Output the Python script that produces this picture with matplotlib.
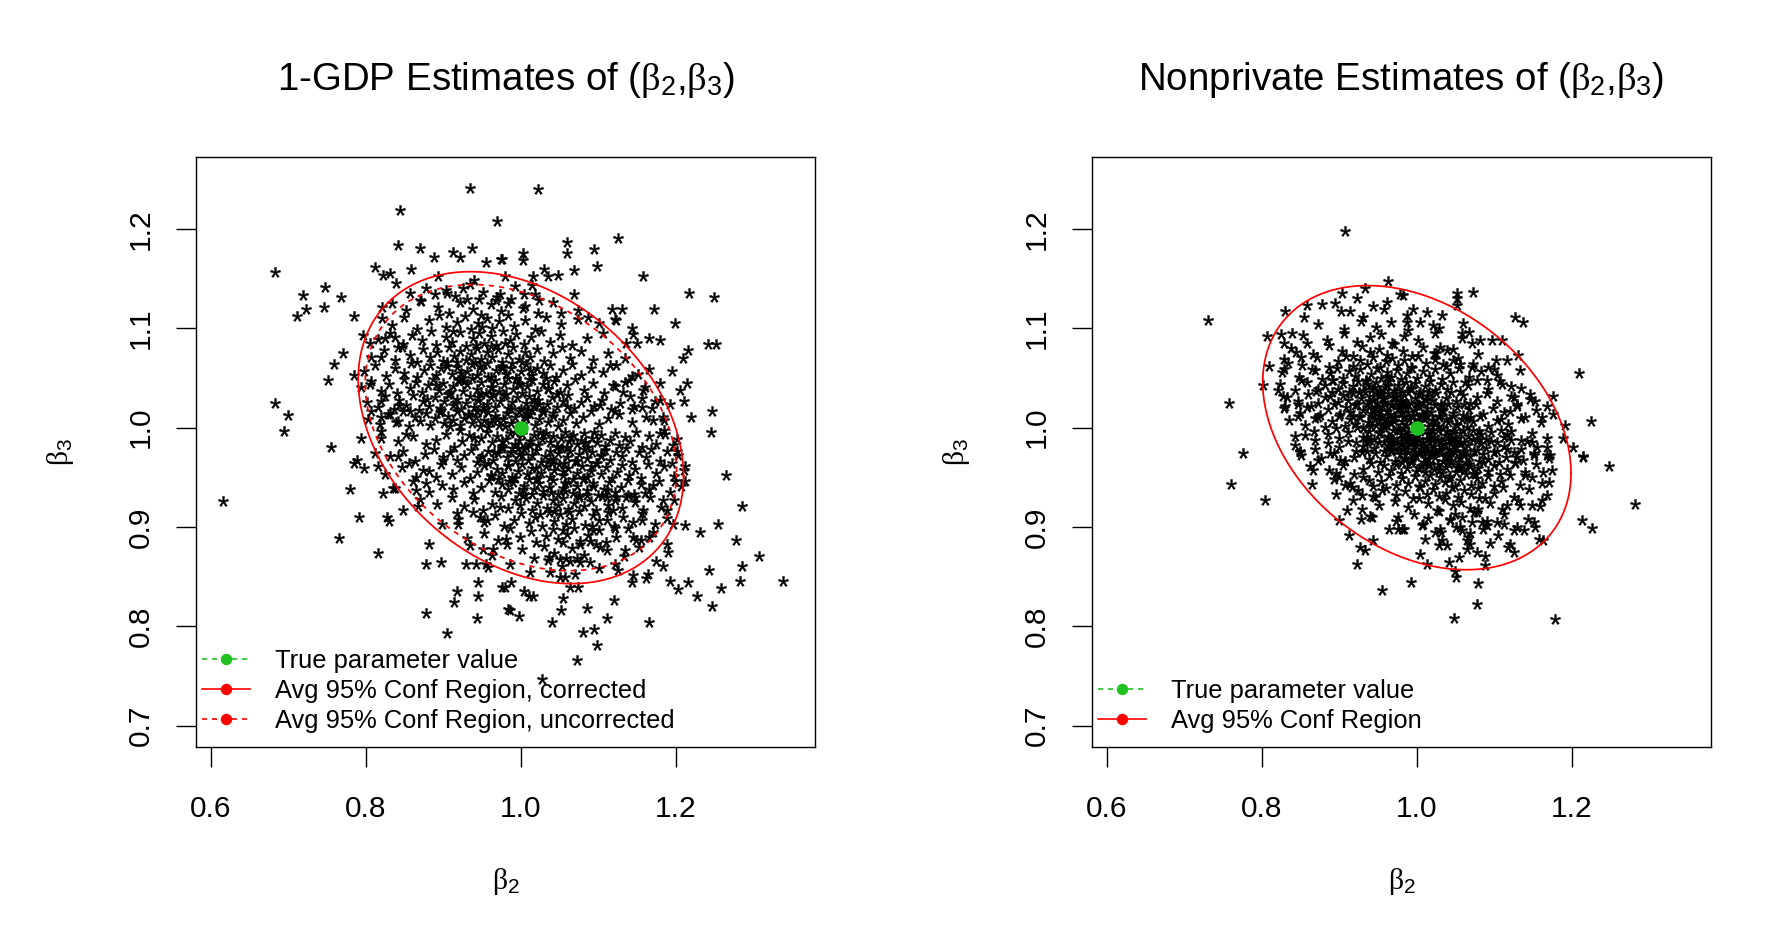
import numpy as np
import matplotlib
matplotlib.use("Agg")
import matplotlib.pyplot as plt
from matplotlib.path import Path
from matplotlib.textpath import TextPath
from matplotlib.font_manager import FontProperties
from matplotlib.lines import Line2D

plt.rcParams['font.family'] = ['Liberation Sans', 'DejaVu Sans']
plt.rcParams['mathtext.fontset'] = 'custom'
plt.rcParams['mathtext.rm'] = 'Liberation Sans'
plt.rcParams['mathtext.it'] = 'Liberation Serif'
plt.rcParams['mathtext.bf'] = 'Liberation Sans:bold'

# ---------------- data ----------------
titles = [r'1-GDP Estimates of ($\beta_2$,$\beta_3$)',
          r'Nonprivate Estimates of ($\beta_2$,$\beta_3$)']
x_label = r'$\beta_2$'
y_label = r'$\beta_3$'
x_ticks = [0.6, 0.8, 1.0, 1.2]
x_tick_labels = ['0.6', '0.8', '1.0', '1.2']
y_ticks = [0.7, 0.8, 0.9, 1.0, 1.1, 1.2]
y_tick_labels = ['0.7', '0.8', '0.9', '1.0', '1.1', '1.2']
true_value = (1.0, 1.0)
legend_gdp = ['True parameter value', 'Avg 95% Conf Region, corrected',
              'Avg 95% Conf Region, uncorrected']
legend_np = ['True parameter value', 'Avg 95% Conf Region']

# average 95% confidence regions: centre, half extents (beta2, beta3), correlation
gdp_corrected_center = (1.0, 1.0)
gdp_corrected_extent = (0.210, 0.157)
gdp_corrected_rho = -0.31
gdp_uncorrected_center = (1.0, 1.0)
gdp_uncorrected_extent = (0.201, 0.144)
gdp_uncorrected_rho = -0.31
np_region_center = (1.0, 1.0)
np_region_extent = (0.199, 0.143)
np_region_rho = -0.32

# 1-GDP estimates: clearly readable (outer) points
gdp_outer = [
(0.934,1.241),(0.844,1.219),(0.969,1.208),(0.841,1.184),(0.870,1.181),(0.888,1.172),(0.913,1.177),(0.921,1.172),(0.937,1.181),(0.955,1.167),(0.974,1.170),(0.683,1.157),(0.812,1.162),(0.822,1.154),(0.831,1.156),(0.839,1.146),(0.858,1.160),(0.893,1.153),(0.719,1.134),(0.747,1.142),(0.768,1.131),(0.722,1.119),(0.711,1.112),(0.746,1.121),(0.785,1.112),(0.771,1.075),(0.759,1.064),(0.751,1.048),(0.785,1.053),(0.796,1.093),(0.805,1.085),(0.821,1.121),(0.821,1.110),(0.833,1.125),(0.683,1.025),(0.699,1.013),(0.694,0.997),(0.755,0.981),(0.793,0.990),(0.789,0.967),(0.805,1.044),(0.820,1.071),(0.825,1.090),(0.837,1.091),
(0.842,1.081),(0.820,1.027),(0.807,1.017),(0.820,1.011),(0.831,1.014),(0.820,0.997),(0.842,1.007),(0.852,0.994),(0.857,1.017),(0.843,1.023),
(0.857,1.136),(0.870,1.128),(0.889,1.135),(0.904,1.136),(0.925,1.141),(0.939,1.149),(0.973,1.135),
(1.022,1.240),(1.059,1.187),(1.059,1.176),(1.095,1.180),(1.126,1.191),(1.098,1.163),(1.003,1.176),(1.003,1.169),(0.975,1.170),(1.158,1.153),(1.217,1.136),(1.249,1.132),(1.172,1.119),(1.199,1.105),(1.242,1.084),(1.252,1.084),(1.216,1.078),(1.209,1.070),(1.195,1.057),(1.214,1.045),(1.205,1.038),(1.211,1.027),(1.247,1.017),(1.220,1.011),(1.245,0.996),(1.117,1.119),(1.130,1.119),(1.122,1.109),(1.144,1.100),(1.145,1.094),(1.136,1.085),(1.150,1.085),(1.165,1.090),(1.179,1.088),(1.151,1.054),(1.160,1.041),(1.157,1.030),(1.146,1.022),
(1.030,1.160),(1.035,1.153),(1.048,1.154),(1.068,1.159),(1.016,1.153),(1.014,1.144),(0.979,1.153),(1.004,1.135),(1.024,1.128),(1.005,1.122),(0.984,1.125),(1.069,1.135),(1.074,1.118),(1.052,1.115),(1.087,1.111),(1.101,1.105),(1.123,1.108),
(1.169,1.020),(1.179,1.028),(1.184,1.011),(1.171,1.008),(1.185,0.998),(1.179,0.995),(1.196,0.983),(1.201,0.977),
(1.134,1.046),(1.132,1.036),(1.115,1.063),(1.119,1.043),(1.102,1.023),(1.121,1.017),(1.144,1.019),
(0.615,0.926),(0.784,0.964),(0.797,0.959),(0.816,0.961),(0.779,0.938),(0.822,0.934),(0.835,0.939),(0.791,0.910),(0.827,0.910),(0.830,0.906),(0.848,0.917),(0.867,0.921),(0.765,0.889),(0.815,0.874),(0.882,0.883),(0.878,0.863),(0.897,0.865),(0.929,0.863),(0.942,0.863),(0.955,0.863),(0.945,0.845),(0.918,0.836),(0.914,0.825),(0.945,0.831),(0.878,0.813),(0.944,0.808),(0.904,0.793),(0.975,0.840),(0.984,0.817),
(0.934,0.882),(0.951,0.878),(0.964,0.878),(0.981,0.888),(0.958,0.860),(0.956,0.907),(0.947,0.910),(0.919,0.903),(0.917,0.914),(0.973,0.920),(0.842,0.971),(0.855,0.964),(0.865,0.937),(0.878,0.944),(0.891,0.950),(0.900,0.967),(0.874,0.957),
(1.265,0.952),(1.285,0.921),(1.255,0.903),(1.231,0.895),(1.278,0.887),(1.308,0.871),(1.286,0.861),(1.243,0.857),(1.338,0.846),(1.283,0.846),(1.258,0.839),(1.247,0.821),(1.227,0.831),(1.216,0.845),(1.203,0.838),(1.192,0.846),(1.166,0.804),(1.120,0.827),(1.111,0.808),(1.086,0.818),(1.052,0.816),(1.040,0.804),(1.080,0.794),(1.095,0.797),(1.098,0.781),(1.072,0.766),(1.027,0.747),(0.986,0.816),(0.998,0.810),(1.055,0.829),(1.063,0.840),(1.074,0.840),(1.004,0.836),(1.011,0.831),(1.016,0.831),(0.987,0.845),(0.980,0.840),(1.145,0.852),(1.162,0.849),(1.143,0.845),(1.164,0.853),(1.175,0.866),(1.184,0.861),(1.190,0.875),(1.188,0.883),(1.195,0.964),(1.212,0.961),(1.212,0.946),(1.199,0.946),(1.212,0.902),
(1.166,0.890),(1.145,0.890),(1.148,0.887),(1.156,0.907),(1.121,0.899),(1.134,0.877),(1.121,0.863),(1.102,0.880),(1.089,0.886),(1.076,0.883),(1.093,0.897),(1.111,0.907),(1.119,0.917),(1.111,0.930),(1.123,0.930),(1.136,0.930),(1.147,0.930),(1.160,0.934),(1.171,0.942),(1.184,0.927),(1.188,0.917),(1.197,0.903),
(1.037,0.855),(1.050,0.850),(1.057,0.850),(1.076,0.865),(1.063,0.866),(1.050,0.868),
]

# 1-GDP estimates: dense core (estimated)
gdp_core = [
(0.878,1.141),(0.915,1.133),(0.934,1.145),(0.951,1.137),(0.969,1.131),(0.992,1.143),(1.018,1.135),(0.903,1.139),(0.946,1.129),
(0.852,1.118),(0.871,1.127),(0.893,1.121),(0.907,1.115),(0.922,1.126),(0.938,1.119),(0.949,1.113),(0.961,1.124),(0.974,1.117),(0.987,1.129),(1.003,1.12),(1.022,1.115),(1.041,1.126),(0.931,1.129),(0.968,1.128),
(0.834,1.103),(0.849,1.111),(0.866,1.099),(0.881,1.108),(0.894,1.113),(0.903,1.101),(0.917,1.106),(0.928,1.112),(0.936,1.099),(0.945,1.105),(0.956,1.11),(0.963,1.1),(0.972,1.107),(0.984,1.113),(0.991,1.102),(1.005,1.108),(1.018,1.099),(1.033,1.111),(1.052,1.104),(1.074,1.109),(0.912,1.097),(0.95,1.101),
(0.816,1.089),(0.831,1.095),(0.848,1.084),(0.859,1.093),(0.872,1.088),(0.884,1.097),(0.891,1.083),(0.903,1.091),(0.911,1.086),(0.921,1.096),(0.929,1.082),(0.938,1.09),(0.946,1.095),(0.953,1.085),(0.961,1.092),(0.968,1.083),(0.977,1.097),(0.986,1.088),(0.994,1.094),(1.004,1.084),(1.013,1.091),(1.026,1.097),(1.038,1.086),(1.051,1.093),(1.066,1.083),(1.085,1.09),(1.106,1.095),(0.942,1.083),(0.979,1.085),
(0.806,1.071),(0.823,1.078),(0.837,1.068),(0.846,1.081),(0.857,1.073),(0.866,1.066),(0.874,1.079),(0.883,1.071),(0.892,1.076),(0.899,1.067),(0.907,1.081),(0.914,1.072),(0.922,1.077),(0.929,1.068),(0.936,1.074),(0.943,1.08),(0.949,1.069),(0.956,1.076),(0.963,1.071),(0.97,1.079),(0.976,1.066),(0.983,1.074),(0.99,1.081),(0.997,1.069),(1.005,1.076),(1.012,1.071),(1.021,1.079),(1.03,1.067),(1.041,1.075),(1.053,1.081),(1.064,1.07),(1.078,1.077),(1.093,1.068),(1.112,1.075),(1.134,1.07),(0.918,1.066),(0.961,1.082),(1.001,1.066),
(0.797,1.057),(0.812,1.063),(0.826,1.052),(0.838,1.06),(0.849,1.055),(0.858,1.065),(0.866,1.051),(0.875,1.058),(0.883,1.063),(0.89,1.053),(0.897,1.06),(0.904,1.066),(0.911,1.054),(0.918,1.061),(0.924,1.05),(0.931,1.057),(0.937,1.064),(0.943,1.053),(0.95,1.059),(0.956,1.065),(0.962,1.051),(0.968,1.058),(0.975,1.062),(0.981,1.054),(0.987,1.06),(0.994,1.05),(1.0,1.057),(1.007,1.064),(1.014,1.053),(1.021,1.06),(1.029,1.055),(1.037,1.063),(1.045,1.051),(1.055,1.058),(1.066,1.064),(1.078,1.053),(1.091,1.06),(1.106,1.056),(1.123,1.063),(1.143,1.052),(1.166,1.059),(0.947,1.062),(0.989,1.065),(1.033,1.05),
(0.793,1.041),(0.806,1.047),(0.819,1.037),(0.83,1.044),(0.84,1.035),(0.849,1.049),(0.857,1.04),(0.865,1.046),(0.873,1.036),(0.88,1.043),(0.887,1.049),(0.894,1.038),(0.9,1.045),(0.907,1.034),(0.913,1.042),(0.919,1.048),(0.925,1.037),(0.931,1.044),(0.937,1.05),(0.943,1.039),(0.949,1.046),(0.955,1.035),(0.961,1.041),(0.967,1.048),(0.972,1.037),(0.978,1.044),(0.984,1.05),(0.99,1.039),(0.996,1.045),(1.002,1.035),(1.008,1.042),(1.015,1.048),(1.021,1.037),(1.028,1.044),(1.035,1.04),(1.043,1.047),(1.051,1.036),(1.06,1.043),(1.07,1.049),(1.081,1.038),(1.093,1.045),(1.107,1.035),(1.122,1.042),(1.139,1.048),(1.158,1.038),(1.18,1.045),(0.922,1.049),(0.964,1.034),(1.011,1.049),(1.047,1.034),
(0.801,1.026),(0.815,1.021),(0.824,1.032),(0.836,1.019),(0.843,1.028),(0.852,1.023),(0.861,1.033),(0.868,1.018),(0.874,1.027),(0.881,1.022),(0.889,1.031),(0.895,1.02),(0.901,1.027),(0.906,1.034),(0.912,1.023),(0.918,1.029),(0.923,1.019),(0.929,1.025),(0.934,1.032),(0.94,1.021),(0.945,1.028),(0.951,1.018),(0.956,1.024),(0.962,1.031),(0.967,1.021),(0.973,1.027),(0.978,1.033),(0.984,1.02),(0.989,1.026),(0.995,1.031),(1.0,1.019),(1.006,1.025),(1.011,1.032),(1.017,1.022),(1.022,1.028),(1.028,1.018),(1.034,1.024),(1.04,1.031),(1.047,1.021),(1.054,1.027),(1.061,1.033),(1.069,1.02),(1.077,1.026),(1.086,1.031),(1.095,1.022),(1.105,1.028),(1.116,1.019),(1.128,1.025),(1.141,1.032),(1.156,1.021),(1.173,1.027),(1.192,1.024),(0.948,1.034),(1.008,1.018),
(0.803,1.009),(0.818,1.004),(0.829,1.014),(0.839,1.006),(0.848,1.017),(0.856,1.002),(0.863,1.011),(0.87,1.007),(0.877,1.015),(0.883,1.003),(0.889,1.01),(0.895,1.016),(0.901,1.005),(0.906,1.012),(0.912,1.008),(0.917,1.017),(0.922,1.003),(0.927,1.01),(0.932,1.014),(0.937,1.005),(0.942,1.011),(0.947,1.002),(0.952,1.008),(0.957,1.016),(0.962,1.006),(0.967,1.012),(0.972,1.003),(0.977,1.009),(0.982,1.015),(0.987,1.005),(0.992,1.011),(0.997,1.017),(1.002,1.004),(1.007,1.01),(1.012,1.014),(1.018,1.003),(1.023,1.009),(1.029,1.016),(1.035,1.006),(1.041,1.012),(1.048,1.002),(1.055,1.008),(1.063,1.015),(1.071,1.005),(1.08,1.011),(1.09,1.017),(1.101,1.004),(1.113,1.01),(1.127,1.014),(1.143,1.006),(1.162,1.011),(1.185,1.008),(0.944,1.017),(0.979,1.002),(1.015,1.018),(0.909,1.002),
(1.126,0.857),(1.089,0.865),(1.070,0.853),(1.053,0.861),(1.035,0.867),(1.012,0.855),(0.986,0.863),(1.101,0.859),(1.058,0.869),
(1.152,0.880),(1.133,0.871),(1.111,0.877),(1.097,0.883),(1.082,0.872),(1.066,0.879),(1.055,0.885),(1.043,0.874),(1.030,0.881),(1.017,0.869),(1.001,0.878),(0.982,0.883),(0.963,0.872),(1.073,0.869),(1.036,0.870),
(1.170,0.895),(1.155,0.887),(1.138,0.899),(1.123,0.890),(1.110,0.885),(1.101,0.897),(1.087,0.892),(1.076,0.886),(1.068,0.899),(1.059,0.893),(1.048,0.888),(1.041,0.898),(1.032,0.891),(1.020,0.885),(1.013,0.896),(0.999,0.890),(0.986,0.899),(0.971,0.887),(0.952,0.894),(0.930,0.889),(1.092,0.901),(1.054,0.897),
(1.188,0.909),(1.173,0.903),(1.156,0.914),(1.145,0.905),(1.132,0.910),(1.120,0.901),(1.113,0.915),(1.101,0.907),(1.093,0.912),(1.083,0.902),(1.075,0.916),(1.066,0.908),(1.058,0.903),(1.051,0.913),(1.043,0.906),(1.036,0.915),(1.027,0.901),(1.018,0.910),(1.010,0.904),(1.000,0.914),(0.991,0.907),(0.978,0.901),(0.966,0.912),(0.953,0.905),(0.938,0.915),(0.919,0.908),(0.898,0.903),(1.062,0.915),(1.025,0.913),
(1.198,0.927),(1.181,0.920),(1.167,0.930),(1.158,0.917),(1.147,0.925),(1.138,0.932),(1.130,0.919),(1.121,0.927),(1.112,0.922),(1.105,0.931),(1.097,0.917),(1.090,0.926),(1.082,0.921),(1.075,0.930),(1.068,0.924),(1.061,0.918),(1.055,0.929),(1.048,0.922),(1.041,0.927),(1.034,0.919),(1.028,0.932),(1.021,0.924),(1.014,0.917),(1.007,0.929),(0.999,0.922),(0.992,0.927),(0.983,0.919),(0.974,0.931),(0.963,0.923),(0.951,0.917),(0.940,0.928),(0.926,0.921),(0.911,0.930),(0.892,0.923),(0.870,0.928),(1.086,0.932),(1.043,0.916),(1.003,0.932),
(1.207,0.941),(1.192,0.935),(1.178,0.946),(1.166,0.938),(1.155,0.943),(1.146,0.933),(1.138,0.947),(1.129,0.940),(1.121,0.935),(1.114,0.945),(1.107,0.938),(1.100,0.932),(1.093,0.944),(1.086,0.937),(1.080,0.948),(1.073,0.941),(1.067,0.934),(1.061,0.945),(1.054,0.939),(1.048,0.933),(1.042,0.947),(1.036,0.940),(1.029,0.936),(1.023,0.944),(1.017,0.938),(1.010,0.948),(1.004,0.941),(0.997,0.934),(0.990,0.945),(0.983,0.938),(0.975,0.943),(0.967,0.935),(0.959,0.947),(0.949,0.940),(0.938,0.934),(0.926,0.945),(0.913,0.938),(0.898,0.942),(0.881,0.935),(0.861,0.946),(0.838,0.939),(1.057,0.936),(1.015,0.933),(0.971,0.948),
(1.211,0.957),(1.198,0.951),(1.185,0.961),(1.174,0.954),(1.164,0.963),(1.155,0.949),(1.147,0.958),(1.139,0.952),(1.131,0.962),(1.124,0.955),(1.117,0.949),(1.110,0.960),(1.104,0.953),(1.097,0.964),(1.091,0.956),(1.085,0.950),(1.079,0.961),(1.073,0.954),(1.067,0.948),(1.061,0.959),(1.055,0.952),(1.049,0.963),(1.043,0.957),(1.037,0.950),(1.032,0.961),(1.026,0.954),(1.020,0.948),(1.014,0.959),(1.008,0.953),(1.002,0.963),(0.996,0.956),(0.989,0.950),(0.983,0.961),(0.976,0.954),(0.969,0.958),(0.961,0.951),(0.953,0.962),(0.944,0.955),(0.934,0.949),(0.923,0.960),(0.911,0.953),(0.897,0.963),(0.882,0.956),(0.865,0.950),(0.846,0.960),(0.824,0.953),(1.082,0.949),(1.040,0.964),(0.993,0.949),(0.957,0.964),
(1.203,0.972),(1.189,0.977),(1.180,0.966),(1.168,0.979),(1.161,0.970),(1.152,0.975),(1.143,0.965),(1.136,0.980),(1.130,0.971),(1.123,0.976),(1.115,0.967),(1.109,0.978),(1.103,0.971),(1.098,0.964),(1.092,0.975),(1.086,0.969),(1.081,0.979),(1.075,0.973),(1.070,0.966),(1.064,0.977),(1.059,0.970),(1.053,0.980),(1.048,0.974),(1.042,0.967),(1.037,0.977),(1.031,0.971),(1.026,0.965),(1.020,0.978),(1.015,0.972),(1.009,0.967),(1.004,0.979),(0.998,0.973),(0.993,0.966),(0.987,0.976),(0.982,0.970),(0.976,0.980),(0.970,0.974),(0.964,0.967),(0.957,0.977),(0.950,0.971),(0.943,0.965),(0.935,0.978),(0.927,0.972),(0.918,0.967),(0.909,0.976),(0.899,0.970),(0.888,0.979),(0.876,0.973),(0.863,0.966),(0.848,0.977),(0.831,0.971),(0.812,0.974),(1.056,0.964),(0.996,0.980),
(1.201,0.989),(1.186,0.994),(1.175,0.984),(1.165,0.992),(1.156,0.981),(1.148,0.996),(1.141,0.987),(1.134,0.991),(1.127,0.983),(1.121,0.995),(1.115,0.988),(1.109,0.982),(1.103,0.993),(1.098,0.986),(1.092,0.990),(1.087,0.981),(1.082,0.995),(1.077,0.988),(1.072,0.984),(1.067,0.993),(1.062,0.987),(1.057,0.996),(1.052,0.990),(1.047,0.982),(1.042,0.992),(1.037,0.986),(1.032,0.995),(1.027,0.989),(1.022,0.983),(1.017,0.993),(1.012,0.987),(1.007,0.981),(1.002,0.994),(0.997,0.988),(0.992,0.984),(0.986,0.995),(0.981,0.989),(0.975,0.982),(0.969,0.992),(0.963,0.986),(0.956,0.996),(0.949,0.990),(0.941,0.983),(0.933,0.993),(0.924,0.987),(0.914,0.981),(0.903,0.994),(0.891,0.988),(0.877,0.984),(0.861,0.992),(0.842,0.987),(0.819,0.990),(1.060,0.981),(1.025,0.996),(0.989,0.980),(1.095,0.996),
(0.905,1.062),(0.923,1.055),(0.941,1.066),(0.958,1.051),(0.976,1.06),(0.994,1.049),(1.012,1.058),(0.891,1.043),(0.909,1.036),(0.927,1.047),(0.945,1.031),(0.963,1.041),(0.981,1.034),(0.999,1.044),(1.017,1.029),(1.035,1.039),(0.897,1.018),(0.915,1.025),(0.933,1.013),(0.951,1.021),(0.969,1.009),(0.987,1.019),(1.005,1.012),(1.023,1.024),(1.041,1.015),(1.059,1.022),(0.921,0.998),(0.939,0.991),(0.957,1.001),(0.975,0.987),(0.993,0.996),(1.011,0.984),(1.029,0.994),(1.047,0.981),(1.065,0.991),(1.083,0.986),(0.947,0.969),(0.965,0.976),(0.983,0.962),(1.001,0.972),(1.019,0.959),(1.037,0.968),(1.055,0.956),(1.073,0.966),(1.091,0.961),(0.985,0.946),(1.003,0.938),(1.021,0.949),(1.039,0.935),(1.057,0.944),(1.075,0.932),(1.093,0.941),(1.111,0.937),(0.961,0.952),(0.879,1.029),(1.103,0.972),
]

# Nonprivate estimates: clearly readable (outer) points
np_outer = [
(0.907,1.198),(0.730,1.108),(0.758,1.025),(0.776,0.974),(0.963,1.148),(0.933,1.141),(0.903,1.136),(0.923,1.130),(0.978,1.135),(0.830,1.117),(0.854,1.111),(0.858,1.123),(0.877,1.124),(0.894,1.125),(0.914,1.117),(0.944,1.122),(0.961,1.126),(0.806,1.092),(0.825,1.094),(0.839,1.095),(0.828,1.085),(0.809,1.062),(0.829,1.059),(0.834,1.065),(0.801,1.043),(0.821,1.038),(0.832,1.031),(0.830,1.022),(0.846,1.024),(0.846,1.012),(0.855,0.993),(0.867,0.997),(0.849,0.977),(0.873,1.011),(0.858,1.021),(0.844,1.076),(0.850,1.071),(0.858,1.085),(0.851,1.048),(0.868,1.058),(0.873,1.039),(0.888,1.032),(0.892,1.048),
(1.052,1.136),(1.052,1.130),(1.052,1.123),(1.073,1.137),(1.127,1.111),(1.137,1.106),(1.209,1.055),(1.225,1.007),(1.176,1.032),(1.168,1.022),(1.176,1.014),(1.162,1.011),(1.191,1.003),(1.189,0.990),(1.202,0.981),(1.214,0.971),(1.116,1.068),(1.130,1.073),(1.071,1.085),(1.082,1.088),(1.097,1.088),(1.110,1.088),(1.059,1.105),(1.058,1.095),(1.067,1.096),(1.032,1.113),(1.028,1.100),(0.995,1.119),(1.013,1.116),(1.004,1.106),(0.987,1.106),(0.982,1.134),(1.092,1.061),(1.099,1.059),(1.090,1.048),(1.107,1.047),(1.121,1.042),(1.146,1.034),(1.153,1.027),(1.125,1.031),(1.129,1.024),(1.140,1.011),(1.120,1.017),(1.108,1.009),(1.116,0.994),(1.142,0.987),(1.155,0.981),(1.168,0.972),(1.129,0.970),(1.116,0.979),(1.056,1.064),(1.071,1.061),(1.062,1.046),(1.047,1.068),(1.039,1.078),(1.030,1.081),(1.022,1.075),(1.034,1.064),
(0.760,0.943),(0.804,0.927),(0.866,0.957),(0.873,0.967),(0.849,0.976),(0.888,0.974),(0.901,0.967),(0.899,0.950),(0.895,0.954),(0.899,0.907),(0.910,0.917),(0.912,0.892),(0.927,0.880),(0.933,0.877),(0.923,0.863),(0.944,0.887),(0.955,0.837),(0.964,0.898),(0.928,0.908),(0.942,0.910),(0.929,0.918),(0.946,0.930),(0.955,0.937),(0.929,0.932),(0.916,0.940),(0.907,0.942),(0.938,0.947),(0.976,0.910),(0.981,0.898),
(1.214,0.970),(1.248,0.961),(1.282,0.923),(1.213,0.907),(1.226,0.899),(1.178,0.807),(1.048,0.808),(1.077,0.823),(1.079,0.844),(1.050,0.850),(1.049,0.856),(0.992,0.845),(1.088,0.862),(1.088,0.871),(1.077,0.875),(1.065,0.878),(1.054,0.870),(1.041,0.865),(1.013,0.863),(1.004,0.873),(1.163,0.887),(1.158,0.888),(1.125,0.875),(1.120,0.883),(1.118,0.880),(1.105,0.892),(1.129,0.900),(1.138,0.897),(1.151,0.905),(1.153,0.900),(1.103,0.905),(1.112,0.903),(1.086,0.898),(1.084,0.905),(1.071,0.905),(1.065,0.887),(1.069,0.883),(1.058,0.897),(1.056,0.900),(1.030,0.898),(1.024,0.895),(1.032,0.887),(1.028,0.882),(1.006,0.902),(0.983,0.898),(1.043,0.908),(1.049,0.913),(1.078,0.915),(1.079,0.918),(1.161,0.927),(1.148,0.922),(1.133,0.922),(1.116,0.922),(1.161,0.944),(1.163,0.955),(1.140,0.952),(1.127,0.965),(1.151,0.972),(1.172,0.972),
]

# Nonprivate estimates: dense core (estimated)
np_core = [
(0.902,1.117),(0.931,1.111),(0.958,1.119),(0.987,1.113),
(0.872,1.104),(0.906,1.099),(0.928,1.107),(0.947,1.101),(0.966,1.106),(0.989,1.098),(1.021,1.103),
(0.853,1.093),(0.884,1.088),(0.906,1.095),(0.923,1.086),(0.939,1.091),(0.954,1.094),(0.968,1.085),(0.983,1.092),(1.001,1.088),(1.024,1.095),(1.058,1.09),
(0.838,1.08),(0.866,1.074),(0.887,1.083),(0.903,1.077),(0.917,1.072),(0.929,1.082),(0.94,1.076),(0.951,1.079),(0.961,1.073),(0.971,1.084),(0.982,1.077),(0.994,1.072),(1.008,1.081),(1.025,1.075),(1.046,1.079),(1.079,1.074),
(0.829,1.069),(0.852,1.063),(0.871,1.071),(0.886,1.061),(0.898,1.067),(0.909,1.072),(0.918,1.062),(0.927,1.068),(0.936,1.064),(0.944,1.071),(0.952,1.061),(0.96,1.067),(0.968,1.07),(0.976,1.063),(0.984,1.068),(0.993,1.061),(1.002,1.072),(1.012,1.065),(1.024,1.069),(1.037,1.062),(1.053,1.07),(1.073,1.064),(1.102,1.068),
(0.826,1.056),(0.848,1.051),(0.864,1.059),(0.877,1.049),(0.888,1.055),(0.897,1.06),(0.905,1.05),(0.913,1.057),(0.92,1.052),(0.927,1.059),(0.934,1.048),(0.941,1.054),(0.948,1.06),(0.954,1.05),(0.961,1.056),(0.967,1.051),(0.974,1.058),(0.98,1.049),(0.987,1.055),(0.994,1.06),(1.0,1.05),(1.008,1.057),(1.016,1.052),(1.024,1.059),(1.033,1.049),(1.043,1.055),(1.054,1.06),(1.067,1.051),(1.083,1.057),(1.104,1.053),(1.133,1.058),
(0.823,1.044),(0.843,1.038),(0.858,1.046),(0.87,1.037),(0.881,1.043),(0.89,1.048),(0.898,1.039),(0.905,1.045),(0.912,1.036),(0.918,1.042),(0.924,1.047),(0.93,1.038),(0.936,1.044),(0.942,1.039),(0.947,1.046),(0.953,1.036),(0.959,1.041),(0.964,1.047),(0.97,1.038),(0.975,1.043),(0.981,1.037),(0.986,1.046),(0.992,1.04),(0.998,1.045),(1.004,1.036),(1.01,1.042),(1.017,1.047),(1.024,1.038),(1.031,1.044),(1.039,1.039),(1.047,1.046),(1.056,1.037),(1.066,1.043),(1.078,1.048),(1.092,1.039),(1.11,1.044),(1.135,1.04),(0.945,1.041),
(0.827,1.032),(0.846,1.027),(0.86,1.034),(0.872,1.025),(0.882,1.031),(0.891,1.036),(0.898,1.026),(0.905,1.033),(0.911,1.028),(0.917,1.035),(0.923,1.024),(0.928,1.03),(0.933,1.036),(0.938,1.027),(0.943,1.032),(0.948,1.025),(0.953,1.034),(0.958,1.029),(0.963,1.035),(0.968,1.024),(0.973,1.031),(0.978,1.027),(0.983,1.033),(0.988,1.036),(0.993,1.025),(0.998,1.03),(1.003,1.034),(1.008,1.026),(1.013,1.032),(1.019,1.028),(1.025,1.035),(1.031,1.024),(1.037,1.03),(1.044,1.036),(1.051,1.027),(1.059,1.033),(1.068,1.025),(1.078,1.031),(1.09,1.035),(1.104,1.027),(1.121,1.032),(1.146,1.029),(0.956,1.03),(0.985,1.024),(1.016,1.036),
(0.829,1.02),(0.849,1.015),(0.863,1.022),(0.875,1.013),(0.885,1.019),(0.893,1.024),(0.901,1.014),(0.908,1.021),(0.914,1.016),(0.92,1.023),(0.925,1.012),(0.931,1.018),(0.936,1.024),(0.941,1.015),(0.946,1.02),(0.951,1.013),(0.956,1.022),(0.961,1.017),(0.966,1.023),(0.97,1.012),(0.975,1.019),(0.98,1.015),(0.984,1.021),(0.989,1.024),(0.994,1.013),(0.998,1.018),(1.003,1.022),(1.008,1.014),(1.013,1.02),(1.018,1.016),(1.023,1.023),(1.028,1.012),(1.034,1.018),(1.04,1.024),(1.046,1.015),(1.052,1.021),(1.059,1.013),(1.067,1.019),(1.076,1.024),(1.086,1.014),(1.098,1.02),(1.112,1.016),(1.129,1.022),(1.154,1.018),(0.949,1.018),(0.978,1.024),(1.006,1.012),(1.031,1.022),(0.918,1.012),(1.061,1.024),
(0.835,1.008),(0.855,1.003),(0.869,1.01),(0.881,1.001),(0.891,1.007),(0.899,1.012),(0.907,1.002),(0.914,1.009),(0.92,1.004),(0.926,1.011),(0.931,1.0),(0.937,1.006),(0.942,1.012),(0.947,1.003),(0.952,1.008),(0.957,1.001),(0.962,1.01),(0.967,1.005),(0.972,1.011),(0.976,1.0),(0.981,1.007),(0.986,1.003),(0.99,1.009),(0.995,1.012),(0.999,1.001),(1.004,1.006),(1.009,1.01),(1.014,1.002),(1.019,1.008),(1.024,1.004),(1.029,1.011),(1.034,1.0),(1.04,1.006),(1.046,1.012),(1.052,1.003),(1.058,1.009),(1.065,1.001),(1.073,1.007),(1.082,1.012),(1.092,1.002),(1.104,1.008),(1.118,1.004),(1.135,1.01),(1.16,1.006),(0.954,1.012),(0.984,1.0),(1.012,1.012),(1.037,1.009),(0.923,1.001),(1.068,1.011),(0.96,1.004),(1.001,1.009),(0.895,1.0),
(1.168,0.990),(1.148,0.995),(1.134,0.988),(1.122,0.997),(1.112,0.991),(1.104,0.986),(1.096,0.996),(1.089,0.989),(1.083,0.994),(1.077,0.987),(1.072,0.998),(1.066,0.992),(1.061,0.986),(1.056,0.995),(1.051,0.990),(1.046,0.997),(1.041,0.988),(1.036,0.993),(1.031,0.987),(1.027,0.998),(1.022,0.991),(1.017,0.995),(1.013,0.989),(1.008,0.986),(1.004,0.997),(0.999,0.992),(0.994,0.988),(0.989,0.996),(0.984,0.990),(0.979,0.994),(0.974,0.987),(0.969,0.998),(0.963,0.992),(0.957,0.986),(0.951,0.995),(0.945,0.989),(0.938,0.997),(0.930,0.991),(0.921,0.986),(0.911,0.996),(0.899,0.990),(0.885,0.994),(0.868,0.988),(0.843,0.992),(1.049,0.986),(1.019,0.998),(0.991,0.986),(0.966,0.989),(1.080,0.997),(0.935,0.987),(1.043,0.994),(1.002,0.989),(1.108,0.998),
(1.168,0.981),(1.148,0.986),(1.134,0.979),(1.122,0.988),(1.112,0.982),(1.104,0.977),(1.096,0.987),(1.089,0.980),(1.083,0.985),(1.077,0.978),(1.072,0.989),(1.066,0.983),(1.061,0.977),(1.056,0.986),(1.051,0.981),(1.046,0.988),(1.041,0.979),(1.036,0.984),(1.031,0.978),(1.027,0.989),(1.022,0.982),(1.017,0.986),(1.013,0.980),(1.008,0.977),(1.003,0.988),(0.999,0.983),(0.994,0.979),(0.989,0.987),(0.984,0.981),(0.979,0.985),(0.974,0.978),(0.969,0.989),(0.963,0.983),(0.957,0.977),(0.951,0.986),(0.945,0.980),(0.938,0.988),(0.930,0.982),(0.921,0.977),(0.911,0.987),(0.899,0.981),(0.885,0.985),(0.868,0.979),(0.843,0.983),(1.048,0.983),(1.019,0.977),(0.991,0.989),(0.966,0.979),(1.079,0.989),(0.936,0.977),
(1.170,0.969),(1.151,0.974),(1.137,0.967),(1.125,0.976),(1.115,0.970),(1.106,0.965),(1.099,0.975),(1.092,0.968),(1.086,0.973),(1.080,0.966),(1.074,0.977),(1.069,0.971),(1.064,0.965),(1.059,0.974),(1.054,0.969),(1.049,0.976),(1.044,0.967),(1.039,0.972),(1.034,0.966),(1.029,0.977),(1.024,0.970),(1.019,0.974),(1.014,0.968),(1.009,0.965),(1.004,0.976),(0.999,0.971),(0.994,0.967),(0.989,0.975),(0.984,0.969),(0.978,0.973),(0.972,0.966),(0.966,0.977),(0.960,0.971),(0.953,0.965),(0.946,0.974),(0.938,0.968),(0.929,0.976),(0.919,0.970),(0.907,0.966),(0.893,0.974),(0.876,0.969),(0.851,0.972),(1.041,0.971),(1.012,0.977),(0.981,0.965),
(1.174,0.957),(1.154,0.963),(1.139,0.955),(1.127,0.964),(1.116,0.958),(1.107,0.953),(1.099,0.962),(1.092,0.956),(1.085,0.965),(1.079,0.959),(1.073,0.954),(1.067,0.963),(1.061,0.957),(1.055,0.962),(1.050,0.955),(1.044,0.965),(1.038,0.960),(1.033,0.954),(1.027,0.963),(1.022,0.958),(1.016,0.964),(1.011,0.955),(1.005,0.961),(0.999,0.956),(0.993,0.965),(0.987,0.959),(0.980,0.954),(0.973,0.963),(0.966,0.957),(0.958,0.962),(0.950,0.955),(0.941,0.964),(0.931,0.958),(0.919,0.953),(0.905,0.962),(0.887,0.957),(0.862,0.961),(1.052,0.960),
(1.171,0.945),(1.149,0.950),(1.133,0.942),(1.120,0.952),(1.109,0.946),(1.100,0.941),(1.092,0.951),(1.084,0.944),(1.077,0.949),(1.070,0.942),(1.063,0.953),(1.056,0.947),(1.049,0.941),(1.043,0.951),(1.036,0.945),(1.030,0.950),(1.023,0.943),(1.017,0.952),(1.010,0.946),(1.003,0.941),(0.997,0.951),(0.989,0.944),(0.981,0.949),(0.973,0.942),(0.964,0.952),(0.954,0.946),(0.943,0.941),(0.930,0.950),(0.914,0.944),(0.893,0.948),(0.864,0.943),
(1.168,0.932),(1.145,0.938),(1.126,0.930),(1.111,0.940),(1.099,0.934),(1.088,0.929),(1.079,0.939),(1.070,0.933),(1.061,0.937),(1.053,0.930),(1.045,0.940),(1.037,0.934),(1.029,0.931),(1.021,0.938),(1.013,0.933),(1.004,0.940),(0.995,0.929),(0.985,0.936),(0.973,0.932),(0.960,0.939),(0.944,0.931),(0.924,0.937),(0.895,0.933),
(1.159,0.921),(1.131,0.927),(1.110,0.918),(1.094,0.924),(1.080,0.929),(1.068,0.919),(1.057,0.925),(1.046,0.922),(1.036,0.928),(1.026,0.917),(1.015,0.924),(1.003,0.929),(0.989,0.920),(0.972,0.926),(0.951,0.922),(0.918,0.927),
(1.144,0.908),(1.113,0.913),(1.091,0.906),(1.074,0.915),(1.058,0.910),(1.043,0.907),(1.029,0.916),(1.014,0.909),(0.996,0.913),(0.973,0.906),(0.939,0.911),
(1.125,0.897),(1.091,0.902),(1.069,0.894),(1.050,0.900),(1.031,0.895),(1.008,0.903),(0.976,0.898),
(1.095,0.884),(1.066,0.890),(1.039,0.882),(1.010,0.888),
(0.951,1.038),(0.962,1.043),(0.973,1.035),(0.944,1.029),(0.958,1.026),(0.969,1.031),(0.981,1.027),(0.992,1.039),(0.938,1.021),(0.952,1.017),(0.965,1.014),(0.977,1.021),(0.989,1.016),(1.001,1.024),(1.012,1.029),(0.946,1.009),(0.958,1.003),(0.971,1.007),(0.983,1.011),(0.996,1.004),(1.008,1.013),(1.021,1.008),(1.033,1.017),(0.952,0.996),(0.964,0.991),(0.977,0.998),(0.989,0.993),(1.002,0.999),(1.014,0.994),(1.027,1.002),(1.039,0.997),(1.051,1.004),(0.969,0.983),(0.982,0.979),(0.994,0.986),(1.007,0.982),(1.019,0.988),(1.032,0.984),(1.044,0.99),(1.056,0.985),(0.985,0.968),(0.998,0.973),(1.011,0.969),(1.023,0.975),(1.036,0.971),(1.048,0.977),(1.061,0.972),(1.003,0.959),(1.016,0.962),(1.029,0.957),(1.042,0.963),(1.055,0.959),(0.934,1.047),(0.925,1.036),(1.068,0.961),(1.075,0.953),(0.941,1.002),(1.059,0.998),(0.936,0.991),(1.065,1.01),(0.961,1.051),(1.041,0.949),
]

# ---------------- styling ----------------
W, H = 1792, 944
GREEN = '#1fc21f'
RED = '#ff0000'
XLIM = (0.5806, 1.3797)
YLIM = (0.6786, 1.2724)

# asterisk glyph (like R's pch="*") as a marker path, centred on its ink box
tp = TextPath((0, 0), '*', size=1, prop=FontProperties(family='Liberation Sans'))
verts = tp.vertices.copy()
codes = tp.codes
real = codes != Path.CLOSEPOLY
ctr = (verts[real].min(0) + verts[real].max(0)) / 2.0
verts[~real] = ctr
star = Path(verts - ctr, codes)


def ellipse(center, extent, rho):
    t = np.linspace(0, 2 * np.pi, 500)
    ex = center[0] + extent[0] * np.cos(t)
    ey = center[1] + extent[1] * (rho * np.cos(t) + np.sqrt(1 - rho ** 2) * np.sin(t))
    return ex, ey


fig = plt.figure(figsize=(W / 100, H / 100), dpi=100)
ax1 = fig.add_axes([196 / W, 1 - 747 / H, 619 / W, 590 / H])
ax2 = fig.add_axes([1092 / W, 1 - 747 / H, 619 / W, 590 / H])

panels = [
    (ax1, gdp_outer + gdp_core, titles[0]),
    (ax2, np_outer + np_core, titles[1]),
]

for ax, pts, title in panels:
    arr = np.array(pts)
    ax.plot(arr[:, 0], arr[:, 1], ls='none', marker=star, ms=7.4,
            mfc='black', mec='black', mew=0.3, zorder=2)
    ax.set_xlim(*XLIM)
    ax.set_ylim(*YLIM)
    ax.set_xticks(x_ticks)
    ax.set_xticklabels(x_tick_labels)
    ax.set_yticks(y_ticks)
    ax.set_yticklabels(y_tick_labels, rotation=90, va='center')
    ax.tick_params(axis='both', direction='out', length=14.4, width=1.0,
                   labelsize=21.5, color='black')
    ax.tick_params(axis='x', pad=20)
    ax.tick_params(axis='y', pad=15)
    for s in ax.spines.values():
        s.set_linewidth(1.0)
    ax.set_xlabel(x_label, fontsize=21.5)
    ax.set_ylabel(y_label, fontsize=21.5)
    ax.xaxis.set_label_coords(0.5, -0.202)
    ax.yaxis.set_label_coords(-0.194, 0.5)
    pos = ax.get_position()
    fig.text((pos.x0 + pos.x1) / 2, 1 - 90 / H, title, ha='center',
             va='baseline', fontsize=27.7)

# confidence regions
ex, ey = ellipse(gdp_corrected_center, gdp_corrected_extent, gdp_corrected_rho)
ax1.plot(ex, ey, color=RED, lw=1.25, zorder=3)
ex, ey = ellipse(gdp_uncorrected_center, gdp_uncorrected_extent, gdp_uncorrected_rho)
ax1.plot(ex, ey, color=RED, lw=1.25, ls=(0, (3.0, 3.0)), zorder=3)
ex, ey = ellipse(np_region_center, np_region_extent, np_region_rho)
ax2.plot(ex, ey, color=RED, lw=1.25, zorder=3)

for ax in (ax1, ax2):
    ax.plot([true_value[0]], [true_value[1]], 'o', color=GREEN, ms=9.5,
            mec=GREEN, zorder=5)

h_true = Line2D([], [], color=GREEN, lw=1.2, ls=(0, (3.0, 3.0)), marker='o',
                ms=7.2, mec=GREEN, mfc=GREEN)
h_corr = Line2D([], [], color=RED, lw=1.2, ls='-', marker='o', ms=7.2,
                mec=RED, mfc=RED)
h_unc = Line2D([], [], color=RED, lw=1.2, ls=(0, (3.0, 3.0)), marker='o',
               ms=7.2, mec=RED, mfc=RED)

leg_kw = dict(loc='lower left', bbox_to_anchor=(0.009, 0.024), frameon=False,
              fontsize=18.4, handlelength=1.89, handletextpad=0.98,
              labelspacing=0.23, borderpad=0.0, borderaxespad=0.0,
              numpoints=1)
ax1.legend([h_true, h_corr, h_unc], legend_gdp, **leg_kw)
ax2.legend([h_true, h_corr], legend_np, **leg_kw)

fig.savefig('out.png', dpi=100)
